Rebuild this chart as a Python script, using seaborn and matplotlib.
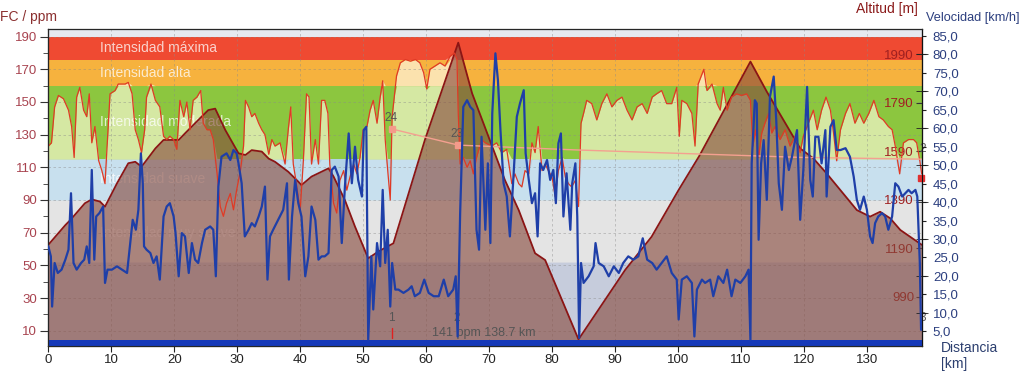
import numpy as np
import matplotlib
matplotlib.use("Agg")
import matplotlib.pyplot as plt
from matplotlib.ticker import MultipleLocator, FuncFormatter
import seaborn as sns

# === Data (distance in km, value) ===
hr_points = [
    (0.0, 123), (0.5, 125), (1.0, 147), (1.6, 154), (2.4, 152), (3.2, 145), (3.7, 135), (4.1, 116),
    (4.5, 153), (5.0, 159), (5.6, 145), (6.1, 141), (6.5, 155), (6.9, 125), (7.4, 135), (8.0, 114),
    (8.5, 108), (9.0, 100), (9.4, 127), (9.8, 155), (10.6, 157), (11.1, 161), (12.2, 161), (12.7, 162),
    (13.3, 155), (13.8, 133), (14.3, 127), (14.8, 119), (15.3, 133), (15.6, 153), (16.3, 161), (17.0, 151),
    (17.7, 147), (18.3, 129), (18.8, 127), (19.3, 129), (19.9, 127), (20.4, 121), (20.9, 151), (21.5, 141),
    (22.0, 150), (22.5, 133), (23.0, 151), (23.6, 153), (24.2, 157), (24.6, 137), (25.2, 133), (25.7, 133),
    (26.2, 127), (26.8, 106), (27.3, 86), (27.8, 80), (28.3, 88), (28.9, 94), (29.4, 84), (29.9, 96),
    (30.5, 108), (31.0, 123), (31.3, 151), (31.8, 147), (32.3, 141), (32.8, 143), (33.4, 137), (33.9, 133),
    (34.4, 130), (35.0, 118), (35.5, 127), (36.0, 123), (36.8, 125), (37.6, 112), (38.1, 133), (38.5, 147),
    (38.9, 112), (39.4, 100), (40.0, 84), (40.5, 114), (41.0, 155), (41.4, 153), (41.8, 112), (42.4, 127),
    (42.9, 112), (43.4, 151), (43.9, 151), (44.4, 143), (44.7, 112), (45.3, 88), (45.8, 82), (46.3, 102),
    (46.9, 108), (47.4, 96), (47.9, 104), (48.5, 112), (49.0, 106), (49.5, 116), (50.0, 133), (50.6, 135),
    (51.1, 145), (51.6, 151), (52.2, 137), (52.7, 153), (53.1, 163), (53.5, 127), (53.9, 108), (54.3, 90),
    (54.6, 141), (55.0, 155), (55.3, 166), (55.9, 174), (56.7, 176), (57.5, 175), (58.3, 176), (59.0, 174),
    (59.6, 168), (60.1, 158), (60.6, 170), (61.4, 172), (62.2, 174), (63.0, 172), (63.8, 178), (64.5, 180),
    (64.9, 176), (65.1, 143), (65.4, 112), (65.9, 116), (66.5, 110), (67.0, 114), (67.5, 106), (68.0, 116),
    (68.8, 127), (69.4, 125), (70.4, 123), (71.2, 125), (72.0, 119), (72.8, 121), (73.6, 100), (74.1, 106),
    (74.7, 100), (75.2, 98), (75.7, 108), (76.3, 106), (76.8, 125), (77.3, 119), (77.8, 135), (78.4, 108),
    (78.9, 112), (79.4, 108), (80.0, 104), (80.5, 92), (81.0, 108), (81.6, 116), (82.1, 104), (82.6, 100),
    (83.1, 98), (83.7, 102), (84.2, 86), (84.6, 137), (85.0, 143), (85.5, 151), (86.3, 149), (87.1, 139),
    (87.9, 149), (88.7, 155), (89.5, 147), (90.3, 151), (91.1, 153), (91.9, 145), (92.7, 139), (93.5, 147),
    (94.3, 149), (95.1, 143), (95.9, 153), (96.6, 155), (97.4, 157), (98.2, 149), (99.0, 149), (99.8, 159),
    (100.2, 129), (100.6, 151), (101.4, 149), (102.2, 143), (102.7, 123), (103.2, 161), (104.1, 170),
    (104.6, 157), (105.4, 161), (106.2, 149), (106.7, 145), (107.2, 159), (107.8, 145), (108.5, 153),
    (109.3, 155), (110.1, 154), (110.9, 155), (111.5, 151), (111.9, 123), (112.3, 133), (112.8, 116),
    (113.3, 131), (113.8, 137), (114.4, 143), (114.9, 131), (115.4, 135), (116.2, 127), (117.0, 133),
    (117.8, 123), (118.6, 129), (119.4, 119), (119.9, 129), (120.7, 137), (121.5, 145), (122.1, 133),
    (122.8, 145), (123.5, 153), (124.2, 145), (124.7, 131), (125.2, 114), (125.8, 133), (126.6, 143),
    (127.3, 149), (128.1, 137), (128.8, 143), (129.5, 137), (130.3, 143), (131.1, 151), (131.9, 141),
    (132.6, 139), (133.4, 135), (134.0, 133), (134.5, 123), (135.2, 106), (135.8, 125), (136.6, 127),
    (137.4, 127), (137.9, 125), (138.4, 114), (138.7, 106),
]

vel_points = [
    (0.0, 28.0), (0.4, 25.3), (0.6, 11.7), (1.0, 23.5), (1.5, 20.8), (2.1, 21.7), (2.7, 24.4), (3.2, 27.1),
    (3.6, 42.4), (4.0, 23.5), (4.5, 21.7), (5.2, 23.5), (5.7, 24.4), (6.1, 28.0), (6.5, 23.5), (6.9, 48.7),
    (7.3, 24.4), (7.6, 36.1), (8.1, 37.0), (8.7, 38.8), (9.0, 18.1), (9.4, 21.7), (10.1, 21.7), (10.9, 22.6),
    (11.7, 21.7), (12.5, 20.8), (13.0, 28.9), (13.4, 35.2), (13.9, 32.5), (14.3, 37.9), (14.7, 53.2),
    (15.0, 45.1), (15.2, 28.0), (15.6, 27.1), (16.2, 26.2), (16.7, 23.5), (17.2, 25.3), (17.7, 19.0),
    (18.3, 36.1), (18.8, 38.8), (19.3, 39.7), (19.9, 36.1), (20.2, 31.6), (20.7, 19.9), (21.2, 31.6),
    (21.7, 30.7), (22.3, 20.8), (22.8, 28.9), (23.3, 24.4), (23.8, 23.5), (24.4, 28.9), (24.9, 32.5),
    (25.7, 33.4), (26.2, 32.5), (26.6, 19.9), (27.0, 44.2), (27.5, 52.3), (28.3, 53.2), (28.9, 51.4),
    (29.4, 54.1), (29.9, 53.2), (30.2, 50.5), (30.7, 45.1), (31.2, 30.7), (31.8, 32.5), (32.3, 34.3),
    (32.8, 33.4), (33.4, 36.1), (33.9, 38.8), (34.4, 44.2), (34.8, 19.0), (35.2, 30.7), (35.7, 32.5),
    (36.5, 35.2), (37.3, 37.9), (37.9, 45.1), (38.2, 19.0), (38.7, 36.1), (39.2, 46.0), (39.7, 39.7),
    (40.2, 36.1), (40.8, 19.9), (41.3, 25.3), (41.8, 38.8), (42.4, 35.2), (42.9, 24.4), (43.4, 25.3),
    (43.9, 25.3), (44.5, 26.2), (45.0, 48.7), (45.5, 49.6), (46.1, 46.9), (46.6, 28.9), (47.1, 44.2),
    (47.7, 58.6), (48.2, 45.1), (48.7, 55.0), (49.2, 46.0), (49.8, 41.5), (50.1, 59.5), (50.5, 60.4),
    (50.8, 2.7), (51.3, 25.3), (51.6, 10.9), (52.2, 28.9), (52.7, 22.6), (53.1, 43.3), (53.5, 23.5),
    (53.9, 32.5), (54.3, 11.7), (54.6, 23.5), (55.1, 16.3), (55.6, 16.3), (56.4, 15.4), (57.2, 16.3),
    (57.7, 17.2), (58.2, 14.5), (59.0, 15.4), (59.7, 19.0), (60.4, 15.4), (61.2, 14.5), (62.0, 14.5),
    (62.8, 19.0), (63.5, 14.5), (64.3, 16.3), (64.7, 19.9), (65.0, 3.6), (65.4, 37.0), (65.9, 65.8),
    (66.5, 67.6), (67.0, 65.8), (67.5, 64.9), (68.0, 32.5), (68.4, 27.1), (68.8, 57.7), (69.4, 32.5),
    (69.8, 50.5), (70.2, 28.9), (70.5, 64.0), (71.0, 80.3), (71.4, 73.0), (71.8, 59.5), (72.3, 45.1),
    (72.8, 41.5), (73.3, 30.7), (73.9, 47.8), (74.4, 63.1), (74.9, 66.7), (75.5, 70.3), (75.8, 53.2),
    (76.3, 46.0), (76.8, 39.7), (77.3, 42.4), (77.7, 30.7), (78.1, 50.5), (78.6, 48.7), (79.2, 51.4),
    (79.7, 46.0), (80.2, 48.7), (80.6, 39.7), (81.0, 55.9), (81.4, 58.6), (81.8, 36.1), (82.3, 47.8),
    (82.9, 32.5), (83.2, 45.1), (83.7, 50.5), (84.0, 36.1), (84.3, 3.2), (84.6, 23.5), (85.0, 18.1),
    (85.8, 19.9), (86.6, 22.6), (86.9, 28.9), (87.4, 23.5), (88.2, 22.6), (89.0, 19.9), (89.8, 22.6),
    (90.6, 20.8), (91.3, 23.5), (92.1, 25.3), (92.9, 24.4), (93.7, 25.3), (94.4, 30.2), (95.1, 24.4),
    (95.9, 23.5), (96.6, 21.7), (97.4, 23.5), (98.2, 25.3), (99.0, 20.8), (99.8, 19.0), (100.1, 8.2),
    (100.6, 19.0), (101.4, 19.9), (102.2, 18.1), (102.6, 3.6), (103.0, 16.3), (103.8, 19.0), (104.3, 18.1),
    (105.1, 19.0), (105.6, 14.5), (106.4, 19.9), (107.2, 18.1), (107.8, 21.7), (108.5, 14.5), (109.1, 19.0),
    (109.9, 18.1), (110.7, 19.9), (111.2, 21.7), (111.5, 2.7), (111.7, 50.5), (112.2, 67.6), (112.5, 66.7),
    (112.8, 29.8), (113.2, 50.5), (113.6, 56.8), (114.1, 40.6), (114.6, 68.5), (115.2, 74.0), (115.6, 62.2),
    (116.0, 45.1), (116.5, 37.9), (117.0, 55.0), (117.6, 48.7), (118.1, 52.3), (118.9, 59.5), (119.4, 35.2),
    (119.9, 48.7), (120.5, 71.2), (121.0, 46.0), (121.4, 41.5), (121.8, 57.7), (122.3, 57.7), (122.8, 50.5),
    (123.4, 59.5), (123.6, 41.5), (124.2, 60.4), (124.7, 62.2), (125.2, 54.1), (125.8, 54.1), (126.6, 54.6),
    (127.3, 52.3), (127.9, 46.9), (128.4, 40.6), (128.9, 37.9), (129.5, 41.5), (130.0, 37.9), (130.5, 30.7),
    (130.9, 28.9), (131.3, 34.3), (131.8, 36.1), (132.4, 37.0), (132.9, 36.1), (133.4, 32.5), (134.0, 36.1),
    (134.5, 45.1), (135.0, 44.2), (135.6, 41.5), (136.1, 42.4), (136.6, 43.3), (137.1, 42.4), (137.7, 43.3),
    (138.0, 41.5), (138.4, 23.5), (138.6, 5.4),
]

alt_points = [
    (0.0, 1205), (2.7, 1286), (3.5, 1307), (5.8, 1376), (6.9, 1392), (8.2, 1383), (9.0, 1362), (10.9, 1458),
    (12.7, 1541), (13.8, 1547), (14.8, 1527), (15.4, 1547), (17.0, 1602), (18.3, 1637), (20.7, 1637),
    (21.7, 1664), (23.8, 1719), (25.4, 1760), (26.5, 1766), (28.1, 1678), (30.2, 1582), (31.3, 1575),
    (32.3, 1595), (33.9, 1589), (35.0, 1560), (36.0, 1547), (38.1, 1506), (39.7, 1465), (40.2, 1451),
    (41.8, 1486), (44.5, 1520), (45.3, 1486), (47.1, 1389), (48.7, 1280), (50.8, 1149), (52.4, 1177),
    (54.3, 1204), (54.8, 1211), (59.8, 1637), (65.1, 2038), (67.3, 1829), (69.4, 1685), (72.5, 1472),
    (74.7, 1348), (77.3, 1170), (78.9, 1142), (84.2, 815), (91.6, 1101), (95.8, 1238), (100.1, 1431),
    (103.4, 1572), (111.5, 1960), (114.1, 1836), (119.4, 1602), (121.5, 1561), (123.6, 1499), (128.4, 1348),
    (130.5, 1321), (132.1, 1341), (133.7, 1314), (135.3, 1266), (138.7, 1205),
]

# heart-rate zones (ppm)
zone_lo = [52, 90, 115, 160, 176]
zone_hi = [90, 115, 160, 176, 190]
zone_full = ['#dcdcdc', '#b2d2e6', '#8cc63f', '#f6b23e', '#ef4a32']
zone_pale = ['#e4e4e4', '#c8e0ee', '#d5e8a3', '#fbe2ae', '#f7a58f']
zone_names = ['Intensidad muy suave', 'Intensidad suave', 'Intensidad moderada',
              'Intensidad alta', 'Intensidad máxima']
zone_label_fc = [70, 103, 138, 168, 183]

# running average markers
avg_km = [54.65, 65.1, 84.2, 119.4, 138.7]
avg_fc = [133.4, 123.6, 120.6, 116.1, 115.0]
lap_km = [54.65, 65.1]
lap_names = ['1', '2']
lap_avg = ['24', '23']

hr_km, hr = map(np.array, zip(*hr_points))
vel_km, vel = map(np.array, zip(*vel_points))
alt_km, alt = map(np.array, zip(*alt_points))

sns.set_style("ticks")
plt.rcParams['font.family'] = ['Liberation Sans', 'DejaVu Sans']

FC_LIM = (0.8, 194.5)
ALT_LIM = (789, 2093)
VEL_LIM = (1.1, 86.8)

fig = plt.figure(figsize=(10.24, 3.71), dpi=100)
ax = fig.add_axes([0.0472, 0.0682, 0.8529, 0.8528])
ax.set_xlim(0, 138.7)
ax.set_ylim(*FC_LIM)

# === Zones ===
ax.axhspan(FC_LIM[0], 52, color='#c6ccdc', lw=0, zorder=0)
ax.axhspan(190, FC_LIM[1], color='#e6e9f0', lw=0, zorder=0)
for lo, hi, full, pale in zip(zone_lo, zone_hi, zone_full, zone_pale):
    ax.axhspan(lo, hi, color=full, lw=0, zorder=0)
    ax.fill_between(hr_km, lo, np.clip(hr, lo, hi), color=pale, lw=0, zorder=1)
for name, y in zip(zone_names, zone_label_fc):
    ax.text(8.2, y, name, color='white', alpha=0.75, fontsize=10, va='center', zorder=2)

ax.set_axisbelow(False)
ax.grid(True, ls=(0, (3, 3)), color='#8a8a8a', lw=0.6, alpha=0.5)

ax.set_xticks(range(0, 131, 10))
ax.set_yticks(range(10, 191, 20))
ax.yaxis.set_minor_locator(MultipleLocator(10))
ax.tick_params(axis='x', length=4, pad=2, labelsize=9.5, labelcolor='#222222', color='#222222')
ax.tick_params(axis='y', which='major', length=6, pad=2, labelsize=9.5, labelcolor='#a8434f', color='#333333')
ax.tick_params(axis='y', which='minor', length=3.5, color='#333333')
for side in ['left', 'bottom', 'right']:
    ax.spines[side].set_color('#111111')
ax.spines['top'].set_color('#9a9a9a')

# === Altitude ===
ax_alt = ax.twinx()
ax_alt.set_ylim(*ALT_LIM)
ax_alt.fill_between(alt_km, ALT_LIM[0], alt, color='#87493d', alpha=0.62, lw=0)
sns.lineplot(x=alt_km, y=alt, ax=ax_alt, color='#8b1515', lw=1.3)
ax_alt.set_yticks(range(990, 2000, 200))
ax_alt.tick_params(axis='y', direction='in', length=4.5, pad=-5.5, labelsize=9.5,
                   labelcolor='#a02020', color='#333333')
for t in ax_alt.get_yticklabels():
    t.set_horizontalalignment('right')

# === Heart rate line + laps ===
ax_hr = ax.twinx()
ax_hr.set_ylim(*FC_LIM)
ax_hr.axis('off')
sns.lineplot(x=hr_km, y=hr, ax=ax_hr, color='#e03a25', lw=0.9)
ax_hr.plot(avg_km, avg_fc, color='#f4a090', lw=1.0)
ax_hr.plot(lap_km, avg_fc[:2], ls='none', marker='s', ms=4, color='#f49a8a')
for km, lap, avg, fc in zip(lap_km, lap_names, lap_avg, avg_fc):
    ax_hr.text(km - 0.2, fc + 7, avg, color='#555555', fontsize=8.5, ha='center', va='center')
    ax_hr.text(km - 0.2, 18, lap, color='#555555', fontsize=8.5, ha='center', va='center')
ax_hr.plot([54.65, 54.65], [5.3, 11.4], color='#e02020', lw=1)
ax_hr.text(69.2, 8.6, '141 ppm 138.7 km', color='#555555', fontsize=9, ha='center', va='center')
ax_hr.plot([138.6], [103.5], marker='s', ms=4, color='#e03030', clip_on=False)
ax_hr.text(138.3, 121.5, '2', color='#555555', fontsize=8.5, ha='left', va='center')
ax_hr.text(138.3, 18, '3', color='#555555', fontsize=8.5, ha='left', va='center')

# === Speed ===
ax_vel = ax.twinx()
ax_vel.set_ylim(*VEL_LIM)
ax_vel.axhspan(VEL_LIM[0], 2.75, color='#1538b8', lw=0, zorder=1)
sns.lineplot(x=vel_km, y=vel, ax=ax_vel, color='#1f3fa8', lw=1.6, zorder=3)
ax_vel.set_yticks(np.arange(5, 86, 5))
ax_vel.yaxis.set_major_formatter(FuncFormatter(lambda v, p: f"{v:.1f}".replace('.', ',')))
ax_vel.yaxis.set_minor_locator(MultipleLocator(10))
ax_vel.yaxis.remove_overlapping_locs = False
ax_vel.tick_params(axis='y', which='major', length=3, pad=5, labelsize=9.5,
                   labelcolor='#2c3f7f', color='#222222')
ax_vel.tick_params(axis='y', which='minor', direction='inout', length=9, color='#222222')
ax_vel.spines['right'].set_color('#111111')

# === Axis titles ===
fig.text(0.0, 0.954, 'FC / ppm', color='#8b3030', fontsize=10, ha='left', va='center')
fig.text(0.8965, 0.976, 'Altitud [m]', color='#8b1a1a', fontsize=10, ha='right', va='center')
fig.text(0.9045, 0.951, 'Velocidad [km/h]', color='#2c3f7f', fontsize=9.2, ha='left', va='center')
fig.text(0.919, 0.062, 'Distancia', color='#2c3f6f', fontsize=10, ha='left', va='center')
fig.text(0.919, 0.019, '[km]', color='#2c3f6f', fontsize=10, ha='left', va='center')

fig.savefig('out.png', dpi=100)
